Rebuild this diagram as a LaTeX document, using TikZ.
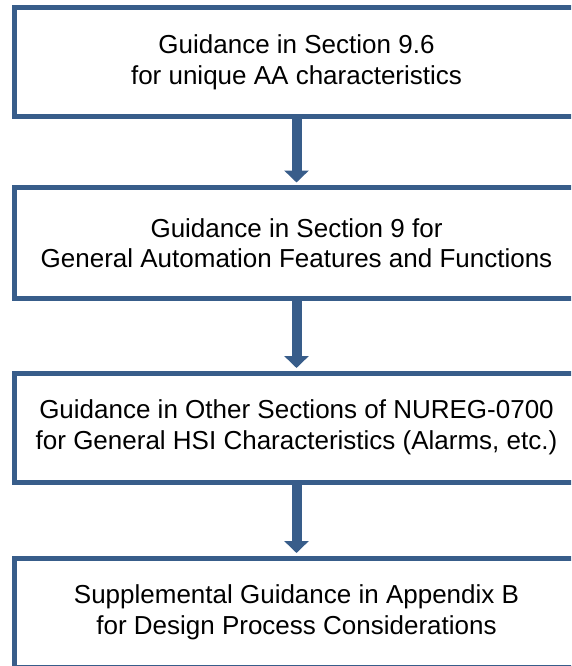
\documentclass[tikz,border=0pt]{standalone}
\usepackage{fontspec}
\setmainfont{Liberation Sans}
\usetikzlibrary{arrows.meta}
\definecolor{bord}{HTML}{385D8A}
\begin{document}
\begin{tikzpicture}[x=1pt,y=-1pt,
  box/.style={draw=bord, line width=5pt, fill=white, minimum width=564pt, inner sep=0pt,
    align=center, font=\fontsize{26pt}{30.5pt}\selectfont, text=black},
  arr/.style={draw=bord, line width=10pt, -{Triangle[width=24pt,length=12pt]}, shorten >=2.5pt}]
\useasboundingbox (0,0) rectangle (571,666);
\clip (0,0) rectangle (571,666);
\node[box, minimum height=109pt] (b1) at (296.5,62.5) {Guidance in Section 9.6\\for unique AA characteristics};
\node[box, minimum height=111pt] (b2) at (296.5,243) {Guidance in Section 9 for\\General Automation Features and Functions};
\node[box, minimum height=109pt] (b3) at (296.5,427.5) {Guidance in Other Sections of NUREG-0700\\for General HSI Characteristics (Alarms, etc.)};
\node[box, minimum height=109pt] (b4) at (296.5,612.5) {Supplemental Guidance in Appendix B\\for Design Process Considerations};
\draw[arr] (b1.south) -- (b2.north);
\draw[arr] (b2.south) -- (b3.north);
\draw[arr] (b3.south) -- (b4.north);
\end{tikzpicture}
\end{document}
